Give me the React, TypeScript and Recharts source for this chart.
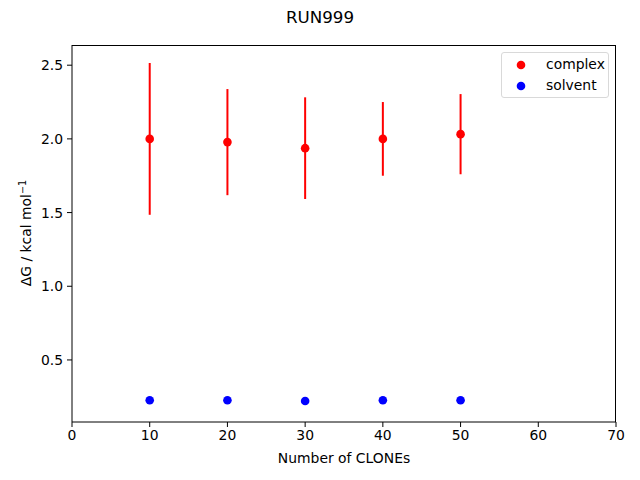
import React from "react";
import { ScatterChart, Scatter, XAxis, YAxis, ErrorBar } from "recharts";

const clones = [10, 20, 30, 40, 50];
const complexDG = [2.0, 1.978, 1.937, 2.0, 2.032];
const complexErr = [0.515, 0.36, 0.345, 0.25, 0.272];
const solventDG = [0.227, 0.227, 0.221, 0.227, 0.227];
const solventErr = [0.03, 0.03, 0.03, 0.03, 0.03];

const xTicks = [0, 10, 20, 30, 40, 50, 60, 70];
const yTicks = [0.5, 1.0, 1.5, 2.0, 2.5];

const complexData = clones.map((x, i) => ({ x, y: complexDG[i], err: complexErr[i] }));
const solventData = clones.map((x, i) => ({ x, y: solventDG[i], err: solventErr[i] }));

const FONT = "DejaVu Sans, sans-serif";

function Dot(color: string) {
  return (props: any) => <circle cx={props.cx} cy={props.cy} r={4.3} fill={color} />;
}

function LegendBox() {
  const items = [
    { name: "complex", color: "#ff0000" },
    { name: "solvent", color: "#0000ff" },
  ];
  return (
    <div
      style={{
        position: "absolute",
        left: 501,
        top: 52,
        width: 108,
        height: 46,
        border: "1px solid #d9d9d9",
        borderRadius: 3,
        background: "rgba(255,255,255,0.8)",
        fontFamily: FONT,
        fontSize: 13.9,
        color: "#000",
        boxSizing: "border-box",
      }}
    >
      {items.map((it, i) => (
        <div key={it.name} style={{ position: "absolute", left: 0, top: 2 + i * 21, height: 18, width: "100%" }}>
          <svg width={30} height={18} style={{ position: "absolute", left: 8, top: 0 }}>
            <circle cx={11} cy={10} r={4.3} fill={it.color} />
          </svg>
          <span style={{ position: "absolute", left: 44, top: 0, lineHeight: "18px" }}>{it.name}</span>
        </div>
      ))}
    </div>
  );
}

export default function App() {
  return (
    <div style={{ position: "absolute", left: 0, top: 0, width: 640, height: 480, background: "#fff" }}>
      <div
        style={{
          position: "absolute",
          top: 7,
          left: 0,
          width: 640,
          textAlign: "center",
          fontFamily: FONT,
          fontSize: 16.7,
          lineHeight: "20px",
          color: "#000",
        }}
      >
        RUN999
      </div>
      <ScatterChart
        width={640}
        height={480}
        margin={{ top: 45, right: 24, bottom: 28, left: 12 }}
        style={{ position: "absolute", left: 0, top: 0 }}
      >
        <XAxis
          type="number"
          dataKey="x"
          domain={[0, 70]}
          ticks={xTicks}
          allowDataOverflow
          height={30}
          stroke="#000"
          tick={{ fill: "#000", fontSize: 13.9, fontFamily: FONT }}
          tickSize={5}
          tickMargin={3}
          label={{
            value: "Number of CLONEs",
            position: "insideBottom",
            offset: -11,
            fill: "#000",
            fontSize: 13.9,
            fontFamily: FONT,
          }}
        />
        <YAxis
          type="number"
          dataKey="y"
          domain={[0.079, 2.637]}
          ticks={yTicks}
          allowDataOverflow
          width={60}
          stroke="#000"
          tick={{ fill: "#000", fontSize: 13.9, fontFamily: FONT }}
          tickFormatter={(v: number) => v.toFixed(1)}
          tickSize={5}
          tickMargin={4}
          label={{
            content: () => (
              <text
                x={31}
                y={233}
                transform="rotate(-90 31 233)"
                textAnchor="middle"
                fontFamily={FONT}
                fontSize={13.9}
                fill="#000"
              >
                ΔG / kcal mol
                <tspan dy={-5} fontSize={9.7}>
                  −1
                </tspan>
              </text>
            ),
          }}
        />
        <Scatter
          name="complex"
          data={complexData}
          fill="#ff0000"
          shape={Dot("#ff0000")}
          isAnimationActive={false}
        >
          <ErrorBar dataKey="err" direction="y" width={0} stroke="#ff0000" strokeWidth={2} />
        </Scatter>
        <Scatter
          name="solvent"
          data={solventData}
          fill="#0000ff"
          shape={Dot("#0000ff")}
          isAnimationActive={false}
        >
          <ErrorBar dataKey="err" direction="y" width={0} stroke="#0000ff" strokeWidth={2} strokeOpacity={0} />
        </Scatter>
      </ScatterChart>
      <div
        style={{
          position: "absolute",
          left: 72,
          top: 45,
          width: 544,
          height: 377,
          borderTop: "1px solid #000",
          borderRight: "1px solid #000",
          boxSizing: "border-box",
          pointerEvents: "none",
        }}
      />
      <LegendBox />
    </div>
  );
}
